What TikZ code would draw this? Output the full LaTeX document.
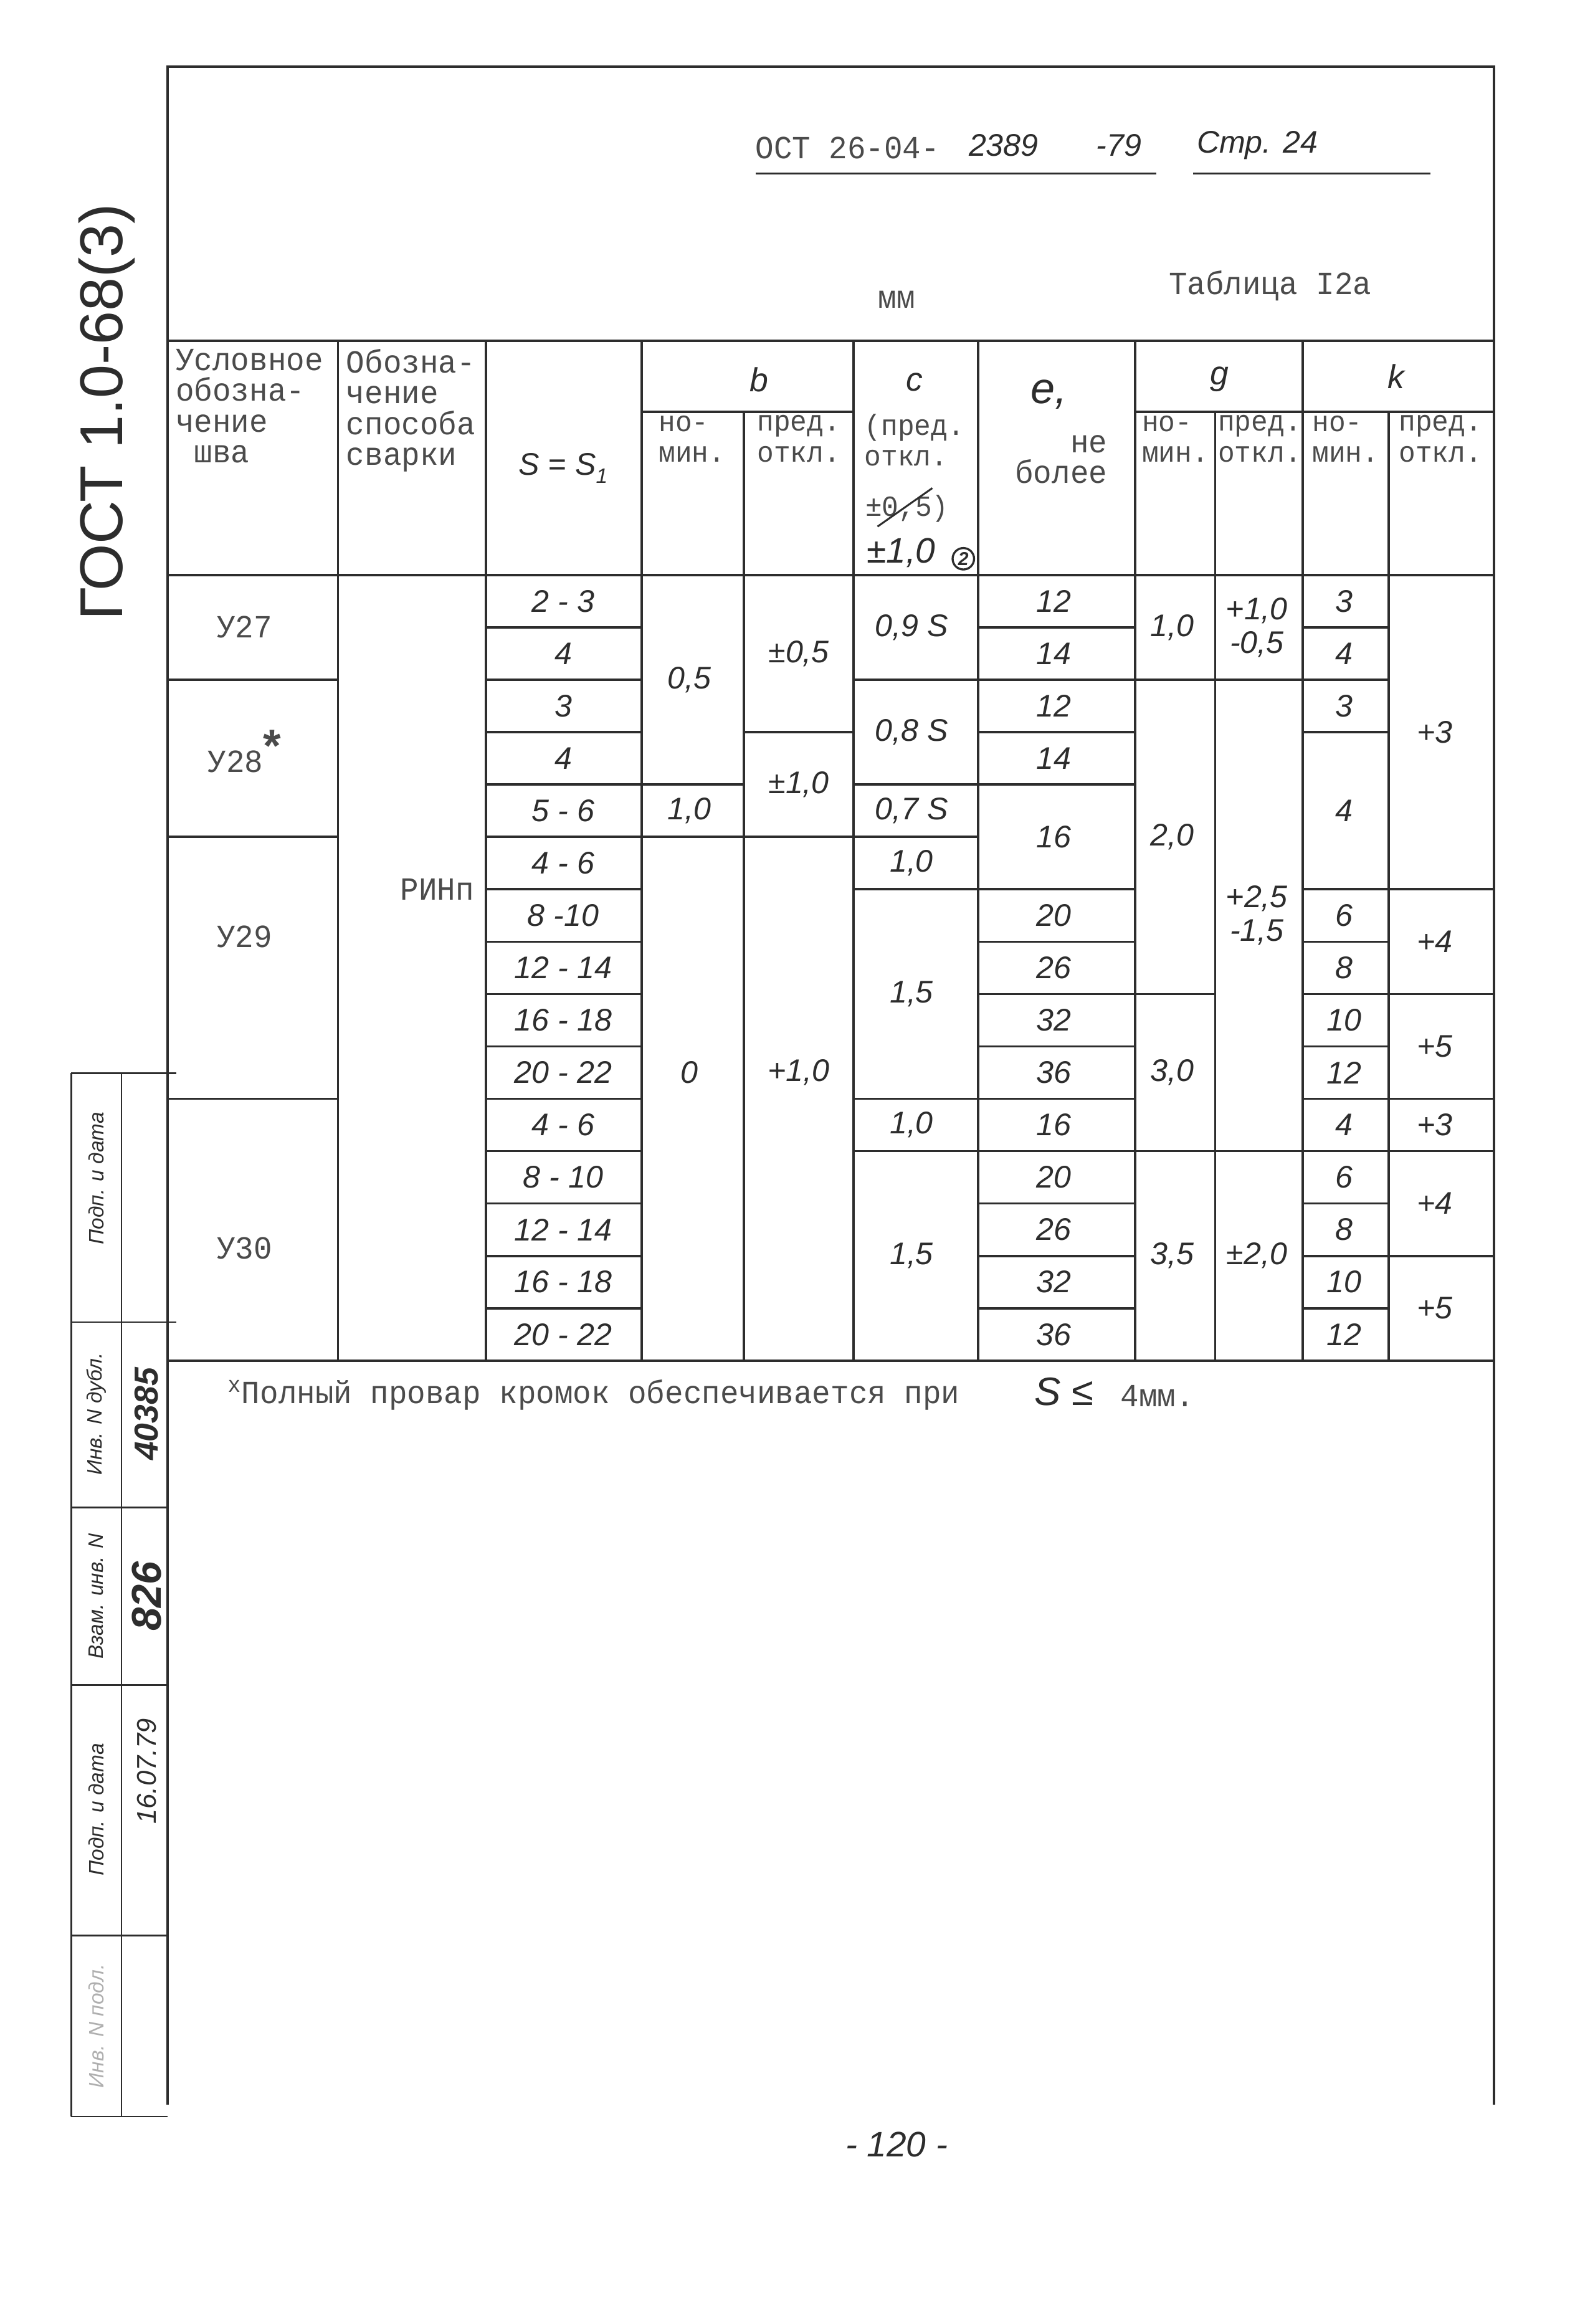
\documentclass[tikz,border=0pt]{standalone}
\usepackage{fontspec}
\setmainfont{Liberation Sans}
\newfontfamily\twfont[FakeStretch=0.95]{Liberation Mono}
\usepackage{tikz}
\definecolor{L}{RGB}{45,45,45}
\definecolor{T}{RGB}{75,75,75}
\definecolor{F}{RGB}{175,175,175}
\def\Rtop{388}
\def\Rh{35.333}
\def\Tleft{113}
\def\Tright{1008}
\def\Tbot{918}

\begin{document}
\begin{tikzpicture}[x=0.25mm,y=-0.25mm,
    rule/.style={L,line width=1.1pt},
    hw/.style={L,font=\itshape\fontsize{15}{16}\selectfont,align=center,inner sep=1pt},
    tw/.style={T,font=\twfont\fontsize{15.5}{14.7}\selectfont,align=left,inner sep=1pt},
    twn/.style={tw,font=\twfont\fontsize{14}{14.7}\selectfont},
    stamp/.style={L,font=\itshape\fontsize{10}{11}\selectfont,rotate=90,inner sep=1pt}]
    \path[use as bounding box] (0,0) rectangle (1059,1568);
    \draw[rule] (\Tleft,1420) -- (\Tleft,45) -- (\Tright,45) -- (\Tright,1420);
    \node[tw,anchor=west] (ost) at (508,100) {ОСТ 26-04-};
    \node[hw,anchor=west] (ostn) at (652,98) {2389};
    \node[hw,anchor=west] (osty) at (738,98) {-79};
    \node[hw,anchor=west] (pg) at (806,98) {Стр. 24};
    \draw[L,line width=0.8pt] (510,117) -- (780,117) (805,117) -- (965,117);
    \node[tw] (mm) at (605,202) {мм};
    \node[tw] (tab) at (857,193) {Таблица I2а};
    \draw[rule] (\Tleft,230) -- (\Tright,230);
    \draw[rule] (433,278) -- (576,278) (766,278) -- (\Tright,278);
    \draw[rule] (\Tleft,\Rtop) -- (\Tright,\Rtop);
    \draw[rule] (\Tleft,\Tbot) -- (\Tright,\Tbot);
    \foreach \X in {228,328,433,576,660,766,879} {\draw[rule] (\X,230) -- (\X,\Tbot);}
    \foreach \X in {502,820,937} {\draw[rule] (\X,278) -- (\X,\Tbot);}
    \foreach \XA/\XB/\Rows in {113/228/{2,5,10}, 328/433/{1,...,14}, 433/502/{4,5}, 502/576/{3,5},
        576/660/{2,4,5,6,10,11}, 660/766/{1,2,3,4,6,7,8,9,10,11,12,13,14}, 766/820/{2,8,11},
        820/879/{2,11}, 879/937/{1,2,3,6,7,8,9,10,11,12,13,14}, 937/1008/{6,8,10,11,13}} {
        \foreach \R in \Rows {\draw[rule] (\XA,{\Rtop+\R*\Rh}) -- (\XB,{\Rtop+\R*\Rh});}
    }
    \node[tw,anchor=north west] (h1) at (117,234) {Условное\\обозна-\\чение\\\ шва};
    \node[tw,anchor=north west] (h2) at (232,234) {Обозна-\\чение\\способа\\сварки};
    \node[hw] (h3) at (380,316) {S = S\raisebox{-0.5ex}{\fontsize{10}{10}\selectfont 1}};
    \node[hw,font=\itshape\fontsize{16}{16}\selectfont] (hb) at (512,256) {b};
    \node[hw,font=\itshape\fontsize{16}{16}\selectfont] (hc) at (617,258) {c};
    \node[hw,font=\itshape\fontsize{21}{21}\selectfont] (he) at (708,266) {e,};
    \node[hw,font=\itshape\fontsize{16}{16}\selectfont] (hg) at (823,256) {g};
    \node[hw,font=\itshape\fontsize{16}{16}\selectfont] (hk) at (942,254) {k};
    \foreach \X/\Nm in {467/bn,793/gn,908/kn} {\node[twn] (\Nm) at (\X,296) {но-\\мин.};}
    \foreach \X/\Nm in {539/bp,850/gp,972/kp} {\node[twn] (\Nm) at (\X,296) {пред.\\откл.};}
    \node[twn] (c1) at (617,297) {(пред.\\откл.};
    \node[twn] (c2) at (612,343) {±0,5)};
    \draw[L,line width=0.9pt] ([xshift=7pt,yshift=-1pt]c2.south west) -- ([xshift=-9pt,yshift=2pt]c2.north east);
    \node[hw,font=\itshape\fontsize{17}{17}\selectfont] (c3) at (608,373) {±1,0};
    \node[L,circle,draw,line width=1pt,inner sep=0.8pt,font=\itshape\bfseries\fontsize{9}{9}\selectfont] (c4) at (650,377) {2};
    \node[tw,align=right] (e1) at (716,310) {не\\более};
    \node[tw] (u27) at (165,423) {У27};
    \node[tw] (u28) at (165,507) {У28\raisebox{0.6ex}{\rmfamily\bfseries\fontsize{22}{22}\selectfont *}};
    \node[tw] (u29) at (165,632) {У29};
    \node[tw] (u30) at (165,842) {У30};
    \node[tw] (rin) at (295,600) {РИНп};
    \foreach \A/\B/\Txt in {0/1/{2 - 3}, 1/2/4, 2/3/3, 3/4/4, 4/5/{5 - 6}, 5/6/{4 - 6}, 6/7/{8 -10},
        7/8/{12 - 14}, 8/9/{16 - 18}, 9/10/{20 - 22}, 10/11/{4 - 6}, 11/12/{8 - 10}, 12/13/{12 - 14},
        13/14/{16 - 18}, 14/15/{20 - 22}} {\node[hw] (S\A) at (380,{\Rtop+(\A+\B)/2*\Rh}) {\Txt};}
    \foreach \A/\B/\Txt in {0/4/{0,5}, 4/5/{1,0}, 9/10/0} {\node[hw] (BN\A) at (465,{\Rtop+(\A+\B)/2*\Rh}) {\Txt};}
    \foreach \A/\B/\Txt in {0/3/{±0,5}, 3/5/{±1,0}, 9/10/{+1,0}} {\node[hw] (BP\A) at (539,{\Rtop+(\A+\B)/2*\Rh}) {\Txt};}
    \foreach \A/\B/\Txt in {0/2/{0,9 S}, 2/4/{0,8 S}, 4/5/{0,7 S}, 5/6/{1,0}, 6/10/{1,5}, 10/11/{1,0}, 11/15/{1,5}}
        {\node[hw] (C\A) at (615,{\Rtop+(\A+\B)/2*\Rh}) {\Txt};}
    \foreach \A/\B/\Txt in {0/1/12, 1/2/14, 2/3/12, 3/4/14, 4/6/16, 6/7/20, 7/8/26, 8/9/32, 9/10/36,
        10/11/16, 11/12/20, 12/13/26, 13/14/32, 14/15/36} {\node[hw] (E\A) at (711,{\Rtop+(\A+\B)/2*\Rh}) {\Txt};}
    \foreach \A/\B/\Txt in {0/2/{1,0}, 2/8/{2,0}, 8/11/{3,0}, 11/15/{3,5}} {\node[hw] (GN\A) at (791,{\Rtop+(\A+\B)/2*\Rh}) {\Txt};}
    \foreach \A/\B/\Txt in {0/2/{+1,0\\-0,5}, 2/11/{+2,5\\-1,5}, 11/15/{±2,0}} {\node[hw] (GP\A) at (848,{\Rtop+(\A+\B)/2*\Rh}) {\Txt};}
    \foreach \A/\B/\Txt in {0/1/3, 1/2/4, 2/3/3, 3/6/4, 6/7/6, 7/8/8, 8/9/10, 9/10/12, 10/11/4,
        11/12/6, 12/13/8, 13/14/10, 14/15/12} {\node[hw] (KN\A) at (907,{\Rtop+(\A+\B)/2*\Rh}) {\Txt};}
    \foreach \A/\B/\Txt in {0/6/{+3}, 6/8/{+4}, 8/10/{+5}, 10/11/{+3}, 11/13/{+4}, 13/15/{+5}}
        {\node[hw] (KP\A) at (968,{\Rtop+(\A+\B)/2*\Rh}) {\Txt};}
    \node[tw,anchor=west] (fn) at (152,941) {\textsuperscript{x}Полный провар кромок обеспечивается при};
    \node[hw,font=\itshape\fontsize{19}{19}\selectfont] (fs) at (718,939) {S ≤};
    \node[tw] (fm) at (781,942) {4мм.};
    \node[L,font=\fontsize{29}{29}\selectfont,rotate=90] (gost) at (72,278) {ГОСТ 1.0-68(3)};
    \draw[L,line width=0.8pt] (48,724) -- (48,1428) (82,724) -- (82,1428);
    \foreach \Y in {724,892} {\draw[L,line width=0.8pt] (48,\Y) -- (119,\Y);}
    \foreach \Y in {1017,1137,1306,1428} {\draw[L,line width=0.8pt] (48,\Y) -- (\Tleft,\Y);}
    \node[stamp] (st1) at (65,795) {Подп. и дата};
    \node[stamp] (st2) at (65,954) {Инв. N дубл.};
    \node[stamp] (st3) at (65,1077) {Взам. инв. N};
    \node[stamp] (st4) at (65,1221) {Подп. и дата};
    \node[stamp,F] (st5) at (65,1367) {Инв. N подл.};
    \node[stamp,font=\itshape\bfseries\fontsize{16}{16}\selectfont] (sv2) at (99,954) {40385};
    \node[stamp,font=\itshape\bfseries\fontsize{20}{20}\selectfont] (sv3) at (99,1077) {826};
    \node[stamp,font=\itshape\fontsize{13}{13}\selectfont] (sv4) at (99,1195) {16.07.79};
    \node[hw,font=\itshape\fontsize{17}{17}\selectfont] (num) at (605,1447) {- 120 -};
\end{tikzpicture}
\end{document}
